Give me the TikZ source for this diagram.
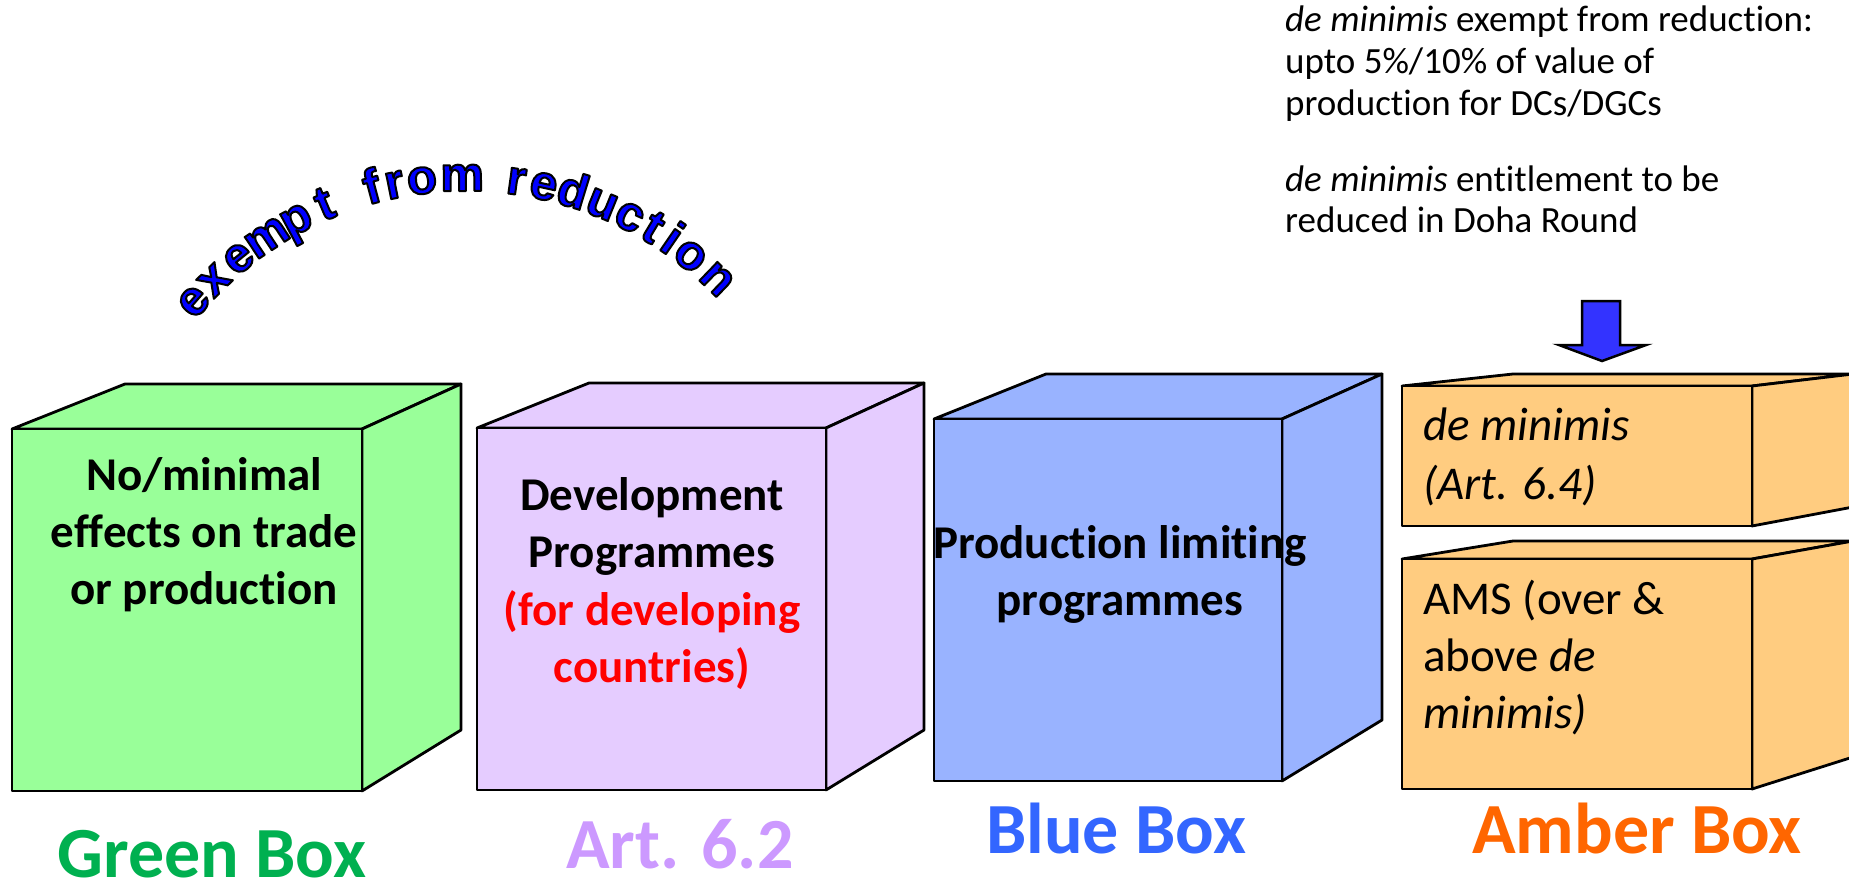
\documentclass[tikz,border=0pt]{standalone}
\usepackage{fontspec}
\setmainfont{Carlito}[Ligatures=CommonOff]
\newfontfamily\arcfont{Liberation Sans}
\usetikzlibrary{calc}
\definecolor{greenfill}{HTML}{99FF99}
\definecolor{purplefill}{HTML}{E5CCFF}
\definecolor{bluefill}{HTML}{99B3FF}
\definecolor{amberfill}{HTML}{FFCC80}
\definecolor{greenlabel}{HTML}{00B050}
\definecolor{artlabel}{HTML}{CC99FF}
\definecolor{bluelabel}{HTML}{3366FF}
\definecolor{amberlabel}{HTML}{FF6600}
\definecolor{arcblue}{HTML}{0000FF}
\definecolor{arrowblue}{HTML}{3333FF}
\definecolor{devred}{HTML}{FF0000}
\newcommand\outlinedchar[1]{\special{pdf:literal direct 0 G 2.0 w 1 j 2 Tr}#1\special{pdf:literal direct 0 Tr}}
\tikzset{
  face/.style={draw=black, line width=2.8pt, line join=round},
  boxtext/.style={inner sep=0pt, anchor=base, font=\fontsize{47}{57}\selectfont\bfseries},
  ambertext/.style={inner sep=0pt, anchor=base west, font=\fontsize{47}{57}\selectfont},
  notetext/.style={inner sep=0pt, anchor=base west, font=\fontsize{37}{41}\selectfont},
  labeltext/.style={inner sep=0pt, anchor=base, text depth=0pt, font=\fontsize{72}{80}\selectfont\bfseries},
  arcl/.style={inner sep=0pt, anchor=base, text=arcblue, font=\fontsize{49}{49}\selectfont\arcfont\bfseries},
}
\begin{document}
\begin{tikzpicture}[x=1pt, y=-1pt]
\useasboundingbox (0,0) rectangle (1849,881);
\clip (0,0) rectangle (1849,881);

% Green cube
\filldraw[face, fill=greenfill] (12,429) -- (125,384) -- (461,384) -- (362,429) -- cycle;
\filldraw[face, fill=greenfill] (362,429) -- (461,384) -- (461,730) -- (362,791) -- cycle;
\filldraw[face, fill=greenfill] (12,429) rectangle (362,791);
% Purple cube
\filldraw[face, fill=purplefill] (477,428) -- (589,383) -- (924,383) -- (826,428) -- cycle;
\filldraw[face, fill=purplefill] (826,428) -- (924,383) -- (924,730) -- (826,790) -- cycle;
\filldraw[face, fill=purplefill] (477,428) rectangle (826,790);
% Blue cube
\filldraw[face, fill=bluefill] (934,419) -- (1046,374) -- (1382,374) -- (1282,419) -- cycle;
\filldraw[face, fill=bluefill] (1282,419) -- (1382,374) -- (1382,720) -- (1282,781) -- cycle;
\filldraw[face, fill=bluefill] (934,419) rectangle (1282,781);
% Amber upper
\filldraw[face, fill=amberfill] (1402,386) -- (1513,374) -- (1853,374) -- (1752,386) -- cycle;
\filldraw[face, fill=amberfill] (1752,386) -- (1853,374) -- (1853,507) -- (1752,526) -- cycle;
\filldraw[face, fill=amberfill] (1402,386) rectangle (1752,526);
% Amber lower
\filldraw[face, fill=amberfill] (1402,559) -- (1513,541) -- (1853,541) -- (1752,559) -- cycle;
\filldraw[face, fill=amberfill] (1752,559) -- (1853,541) -- (1853,757) -- (1752,789) -- cycle;
\filldraw[face, fill=amberfill] (1402,559) rectangle (1752,789);

% Arrow
\filldraw[draw=black, line width=2.5pt, line join=miter, fill=arrowblue]
  (1582,301) -- (1620,301) -- (1620,345) -- (1646,345) -- (1602,361) -- (1559,345) -- (1582,345) -- cycle;

% Green text
\node[boxtext] (g1) at (204,490) {No/minimal};
\node[boxtext] (g2) at (204,547) {effects on trade};
\node[boxtext] (g3) at (204,604) {or production};
% Purple text
\node[boxtext] (p1) at (652,510) {Development};
\node[boxtext] (p2) at (652,567) {Programmes};
\node[boxtext, text=devred] (p3) at (652,625) {(for developing};
\node[boxtext, text=devred] (p4) at (652,682) {countries)};
% Blue text
\node[boxtext] (b1) at (1120,558) {Production limiting};
\node[boxtext] (b2) at (1120,615) {programmes};
% Amber text
\node[ambertext] (a1) at (1423,440) {\itshape de minimis};
\node[ambertext] (a2) at (1423,499) {\itshape (Art. 6.4)};
\node[ambertext] (a3) at (1423,614) {AMS (over \&};
\node[ambertext] (a4) at (1423,671) {above \textit{de}};
\node[ambertext] (a5) at (1423,728) {\itshape minimis)};
% Note text
\node[notetext] (n1) at (1285,31) {\textit{de minimis} exempt from reduction:};
\node[notetext] (n2) at (1285,73) {upto 5\%/10\% of value of};
\node[notetext] (n3) at (1285,115) {production for DCs/DGCs};
\node[notetext] (n4) at (1285,191) {\textit{de minimis} entitlement to be};
\node[notetext] (n5) at (1285,232) {reduced in Doha Round};
% Labels
\node[labeltext, text=greenlabel] (lg) at (212,877) {Green Box};
\node[labeltext, text=artlabel] (la) at (680,868) {Art. 6.2};
\node[labeltext, text=bluelabel] (lb) at (1116,853) {Blue Box};
\node[labeltext, text=amberlabel] (lm) at (1637,853) {Amber Box};

% Curved text "exempt from reduction"
\foreach \ch/\a [count=\i] in {e/138.9, x/134.2, e/129.0, m/123.4, p/118.0, t/112.9, f/105.0, r/101.4, o/97.0, m/90.6, r/82.0, e/77.6, d/72.9, u/67.9, c/63.1, t/59.0, i/55.5, o/51.6, n/46.0} {
  \node[arcl, rotate=\a-90] (c\i) at ({466+348*cos(\a)},{539-348*sin(\a)}) {\outlinedchar{\ch}};
}
\end{tikzpicture}
\end{document}
